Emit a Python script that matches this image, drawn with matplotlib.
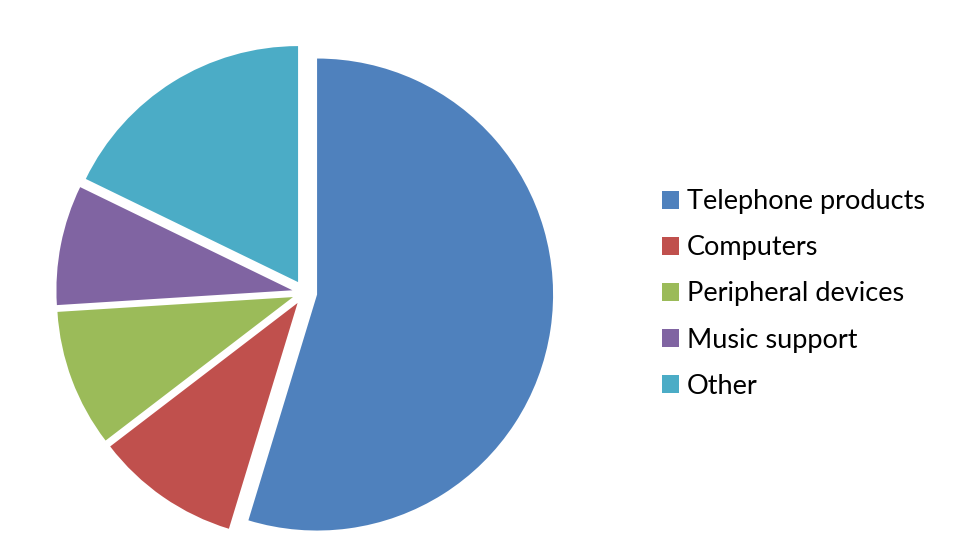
import numpy as np
from matplotlib import pyplot as plt

# share of sales by product group (percent)
labels = ['Telephone products', 'Computers', 'Peripheral devices', 'Music support', 'Other']
values = [54.7, 9.9, 9.4, 8.2, 17.8]
colors = ['#4F81BD', '#C0504D', '#9BBB59', '#8064A2', '#4BACC6']

plt.rcParams['font.family'] = ['Lato', 'DejaVu Sans']

W, H = 963, 560
fig = plt.figure(figsize=(W / 100, H / 100), dpi=100)

# pie centre and radius in pixels
cx, cy, r = 304.7, 292.7, 236.0
half = 262.0
ax = fig.add_axes([(cx - half) / W, (H - cy - half) / H, 2 * half / W, 2 * half / H])

wedges, _ = ax.pie(values, colors=colors, startangle=90, counterclock=False,
                   explode=[0.053] * len(values), radius=1.0,
                   wedgeprops=dict(linewidth=0))
lim = half / r
ax.set_xlim(-lim, lim)
ax.set_ylim(-lim, lim)
ax.set_aspect('equal')
ax.axis('off')

fs = 19.5
fig.legend(wedges, labels, loc='center left', bbox_to_anchor=(662 / W, (H - 294) / H),
           frameon=False, fontsize=fs, borderpad=0, borderaxespad=0,
           handlelength=0.63, handleheight=0.63, handletextpad=0.3, labelspacing=0.776)

plt.savefig('out.png', dpi=100)
